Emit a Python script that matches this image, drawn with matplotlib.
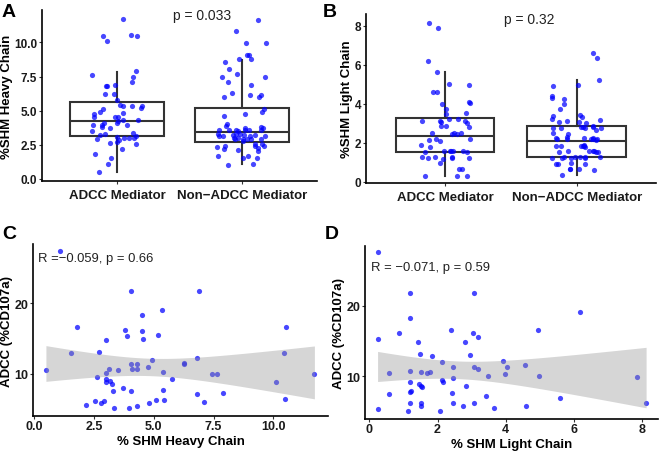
import numpy as np
import matplotlib
matplotlib.use("Agg")
import matplotlib.pyplot as plt

plt.rcParams['font.family'] = ['Liberation Sans', 'DejaVu Sans']

groups = ['ADCC Mediator', 'Non\u2212ADCC Mediator']

# %SHM heavy chain per group (panel A)
heavy_adcc = [11.71, 10.49, 10.54, 10.44, 10.12, 7.88, 7.63, 7.44, 7.12, 6.88, 6.78, 6.78,
              6.22, 6.22, 5.78, 5.44, 5.37, 5.37, 5.32, 5.2, 5.12, 4.9, 4.8, 4.76, 4.54, 4.51,
              4.56, 4.32, 4.32, 4.22, 4.12, 4.08, 3.93, 3.95, 3.97, 3.83, 3.76, 3.54, 3.37,
              3.25, 3.29, 3.15, 3.07, 3.0, 3.02, 3.0, 2.95, 2.83, 2.73, 2.54, 2.63, 2.17, 1.83,
              1.54, 1.1, 0.51]
heavy_non = [11.66, 10.85, 9.93, 9.93, 9.1, 9.1, 8.78, 8.58, 8.76, 8.03, 7.68, 7.44, 7.49,
             7.1, 6.88, 6.29, 6.15, 6.17, 6.0, 6.0, 5.1, 4.88, 4.78, 4.63, 4.0, 3.76, 3.76,
             3.9, 3.83, 3.61, 3.61, 3.61, 3.53, 3.61, 3.61, 3.56, 3.32, 3.22, 3.22, 3.24,
             3.27, 3.27, 3.17, 3.15, 3.17, 3.12, 3.02, 2.9, 2.95, 2.98, 2.95, 2.93, 2.93,
             2.78, 2.58, 2.54, 2.44, 2.41, 2.37, 2.39, 2.24, 2.2, 2.1, 2.02, 1.66, 1.68,
             1.54, 1.54, 1.1, 1.0]

# %SHM light chain per group (panel B)
light_adcc = [8.14, 7.88, 6.19, 5.61, 4.97, 5.01, 4.6, 4.6, 4.07, 3.97, 4.02, 3.71, 3.47,
              3.51, 3.21, 3.21, 3.08, 3.09, 3.09, 3.01, 3.11, 2.87, 2.87, 2.79, 2.51, 2.5,
              2.51, 2.46, 2.43, 2.17, 2.17, 2.1, 2.15, 1.88, 1.8, 1.52, 1.57, 1.52, 1.57,
              1.57, 1.57, 1.57, 1.26, 1.23, 1.18, 1.23, 1.25, 1.23, 1.25, 0.94, 0.63, 0.63,
              0.31, 0.29, 0.29]
light_non = [6.58, 6.32, 4.97, 5.21, 4.91, 4.38, 4.27, 4.26, 4.0, 3.74, 3.4, 3.38, 3.33,
             3.08, 2.99, 3.21, 3.11, 3.15, 3.06, 2.85, 2.77, 2.8, 2.77, 2.79, 2.75, 2.79,
             2.77, 2.65, 2.48, 2.46, 2.31, 2.26, 2.22, 2.26, 2.19, 2.15, 2.17, 2.17, 2.19,
             2.17, 1.85, 1.85, 1.83, 1.85, 1.83, 1.79, 1.88, 1.55, 1.55, 1.57, 1.57, 1.54,
             1.54, 1.54, 1.23, 1.27, 1.23, 1.25, 1.25, 1.23, 1.25, 1.25, 1.21, 0.91, 0.97,
             0.91, 0.92, 0.62, 0.63, 0.63, 0.63, 0.32]

# box summaries: whisker low, q1, median, q3, whisker high
heavy_box_adcc = [0.54, 3.17, 4.27, 5.66, 7.85]
heavy_box_non = [1.10, 2.68, 3.41, 5.17, 8.70]
light_box_adcc = [0.31, 1.50, 2.32, 3.25, 5.60]
light_box_non = [0.34, 1.26, 2.07, 2.85, 5.21]

# panel C: heavy chain SHM vs ADCC
shm_heavy = [1.07, 0.49, 1.52, 1.81, 2.16, 2.54, 2.64, 2.72, 2.79, 2.93, 3.0, 2.99, 3.0, 3.0,
             3.14, 3.19, 3.26, 3.31, 3.33, 3.51, 3.72, 3.81, 3.9, 3.95, 4.03, 4.03, 4.07,
             4.11, 4.3, 4.3, 4.31, 4.5, 4.53, 4.57, 4.76, 4.81, 4.92, 5.1, 5.19, 5.34, 5.38,
             5.38, 5.45, 5.75, 6.25, 6.25, 6.79, 6.79, 6.89, 7.11, 7.45, 7.63, 7.88, 10.13,
             10.43, 10.49, 10.52, 11.72]
adcc_heavy = [27.4, 10.5, 12.9, 16.6, 5.6, 6.2, 9.6, 13.1, 5.9, 6.2, 14.8, 10.1, 9.2, 8.8,
              10.7, 8.9, 8.6, 7.6, 5.2, 10.5, 8.0, 16.2, 15.3, 5.2, 21.7, 7.6, 11.4, 10.6,
              11.4, 10.6, 5.4, 16.1, 18.3, 14.9, 11.0, 5.8, 12.0, 6.3, 15.5, 19.0, 10.3, 7.7,
              6.3, 9.2, 11.5, 11.4, 12.2, 7.1, 21.7, 6.0, 10.0, 9.9, 7.2, 8.8, 13.0, 6.4,
              16.6, 10.0]

# panel D: light chain SHM vs ADCC
shm_light = [0.24, 0.24, 0.24, 0.58, 0.58, 0.88, 1.14, 1.18, 1.18, 1.19, 1.2, 1.2, 1.2, 1.22,
             1.44, 1.45, 1.49, 1.5, 1.5, 1.52, 1.52, 1.54, 1.69, 1.77, 1.84, 2.06, 2.13,
             2.13, 2.15, 2.4, 2.42, 2.44, 2.46, 2.46, 2.74, 2.82, 2.83, 2.95, 3.03, 3.06,
             3.06, 3.08, 3.18, 3.19, 3.47, 3.43, 3.67, 3.93, 3.99, 4.04, 4.57, 4.59, 4.95,
             4.98, 5.58, 6.17, 7.86, 8.12]
adcc_light = [27.5, 15.3, 5.4, 10.5, 7.5, 16.1, 5.1, 21.8, 18.3, 7.8, 6.2, 10.7, 9.2, 7.9,
              14.8, 8.9, 13.1, 10.6, 6.2, 8.7, 5.8, 8.5, 10.5, 10.6, 12.9, 5.1, 12.0, 9.5,
              9.2, 16.6, 7.6, 9.8, 6.2, 11.4, 5.9, 14.9, 8.7, 13.0, 16.2, 21.8, 11.3, 6.2,
              15.5, 11.0, 10.0, 7.2, 5.5, 12.2, 10.3, 11.4, 11.6, 5.8, 16.6, 10.1, 7.0, 19.1,
              9.9, 6.3]

p_heavy = 'p = 0.033'
p_light = 'p = 0.32'
cor_heavy = 'R =\u22120.059, p = 0.66'
cor_light = 'R = \u22120.071, p = 0.59'

LINE = '#333333'
DOT = '#0000FF'
rng = np.random.default_rng(7)


def style_axes(ax, size=8.5):
    for s in ('top', 'right'):
        ax.spines[s].set_visible(False)
    for s in ('left', 'bottom'):
        ax.spines[s].set_linewidth(1.2)
        ax.spines[s].set_color('black')
    ax.tick_params(length=2.5, width=0.8, color=LINE, pad=1)
    for lab in ax.get_xticklabels() + ax.get_yticklabels():
        lab.set_fontweight('bold')
        lab.set_fontsize(size)
        lab.set_color('#1a1a1a')


def box_panel(ax, data, boxes, ylabel, ylim, yticks, ytlabels, ptext, ppos):
    stats = [dict(whislo=b[0], q1=b[1], med=b[2], q3=b[3], whishi=b[4]) for b in boxes]
    ax.bxp(stats, positions=[1, 2], widths=0.75, showfliers=False, showcaps=False,
           patch_artist=True,
           boxprops=dict(facecolor='white', edgecolor=LINE, linewidth=1.5),
           medianprops=dict(color=LINE, linewidth=1.5),
           whiskerprops=dict(color=LINE, linewidth=1.5))
    for i, vals in enumerate(data):
        jit = rng.uniform(-0.2, 0.2, len(vals))
        ax.scatter(i + 1 + jit, vals, s=14, color=DOT, alpha=0.72, linewidths=0, zorder=3)
    ax.set_xlim(0.4, 2.6)
    ax.set_ylim(*ylim)
    ax.set_xticks([1, 2])
    ax.set_xticklabels(groups)
    ax.set_yticks(yticks)
    ax.set_yticklabels(ytlabels)
    style_axes(ax)
    for lab in ax.get_xticklabels():
        lab.set_fontsize(9.5)
    ax.tick_params(axis='x', pad=3)
    ax.set_ylabel(ylabel, fontsize=9.5, fontweight='bold', labelpad=1)
    ax.text(ppos[0], ppos[1], ptext, fontsize=10, ha='center', va='center', color='#222222')


def scatter_panel(ax, x, y, xlabel, xlim, xticks, xtlabels, ctext, cpos):
    x = np.asarray(x)
    y = np.asarray(y)
    ax.scatter(x, y, s=14, color=DOT, alpha=0.72, linewidths=0, zorder=3)
    # linear fit with 95% confidence band
    n = len(x)
    b, a = np.polyfit(x, y, 1)
    xs = np.linspace(x.min(), x.max(), 100)
    yhat = a + b * xs
    resid = y - (a + b * x)
    s = np.sqrt(np.sum(resid ** 2) / (n - 2))
    se = s * np.sqrt(1.0 / n + (xs - x.mean()) ** 2 / np.sum((x - x.mean()) ** 2))
    t = 2.003
    ax.fill_between(xs, yhat - t * se, yhat + t * se, color='#999999', alpha=0.4,
                    linewidth=0, zorder=4)
    ax.set_xlim(*xlim)
    ax.set_ylim(4.0, 28.4)
    ax.set_xticks(xticks)
    ax.set_xticklabels(xtlabels)
    ax.set_yticks([10, 20])
    ax.set_yticklabels(['10', '20'])
    style_axes(ax, 9)
    ax.tick_params(axis='x', pad=0.5)
    ax.set_xlabel(xlabel, fontsize=9.5, fontweight='bold', labelpad=2)
    ax.set_ylabel('ADCC (%CD107a)', fontsize=9.5, fontweight='bold', labelpad=1)
    ax.text(cpos[0], cpos[1], ctext, fontsize=9.4, ha='left', va='center', color='#222222',
            zorder=5)


fig = plt.figure(figsize=(6.6, 4.52), dpi=100)
ax_a = fig.add_axes([0.0636, 0.5973, 0.4167, 0.3783])
ax_b = fig.add_axes([0.5545, 0.5929, 0.4394, 0.3739])
ax_c = fig.add_axes([0.050, 0.0774, 0.447, 0.3805])
ax_d = fig.add_axes([0.553, 0.0708, 0.444, 0.3827])

box_panel(ax_a, [heavy_adcc, heavy_non], [heavy_box_adcc, heavy_box_non], '%SHM Heavy Chain',
          (-0.15, 12.37), [0, 2.5, 5, 7.5, 10], ['0.0', '2.5', '5.0', '7.5', '10.0'],
          p_heavy, (1.68, 12.0))
box_panel(ax_b, [light_adcc, light_non], [light_box_adcc, light_box_non], '%SHM Light Chain',
          (-0.07, 8.6), [0, 2, 4, 6, 8], ['0', '2', '4', '6', '8'], p_light, (1.64, 8.34))

scatter_panel(ax_c, shm_heavy, adcc_heavy, '% SHM Heavy Chain', (-0.05, 12.29),
              [0, 2.5, 5, 7.5, 10], ['0.0', '2.5', '5.0', '7.5', '10.0'], cor_heavy, (0.15, 26.4))
scatter_panel(ax_d, shm_light, adcc_light, '% SHM Light Chain', (-0.13, 8.47),
              [0, 2, 4, 6, 8], ['0', '2', '4', '6', '8'], cor_light, (0.05, 25.5))

for lab, xx, yy in [('A', 0.003, 0.992), ('B', 0.489, 0.992), ('C', 0.003, 0.500), ('D', 0.492, 0.500)]:
    fig.text(xx, yy, lab, fontsize=14, fontweight='bold', ha='left', va='top')

fig.savefig('out.png', dpi=100)
